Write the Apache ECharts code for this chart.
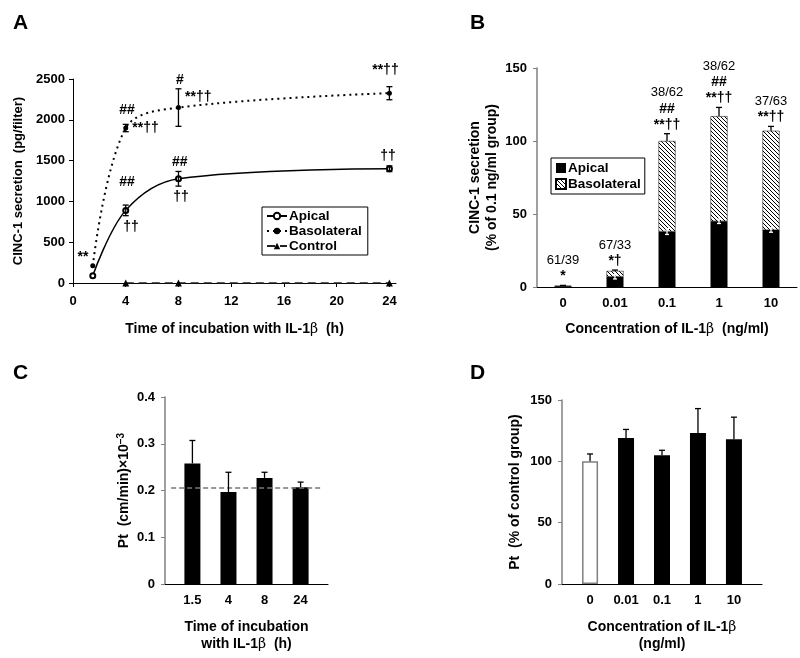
<!DOCTYPE html>
<html>
<head>
<meta charset="utf-8">
<script src="https://cdn.jsdelivr.net/npm/echarts@6/dist/echarts.min.js"></script>
<style>
    html, body { margin: 0; padding: 0; background: #fff; }
    #chart { width: 800px; height: 658px; }
</style>
</head>
<body>
<div id="chart"></div>
<script>
// ---- panel A: time course (pg/filter)
var hours = [1.5, 4, 8, 24];
var xTicksA = [0, 4, 8, 12, 16, 20, 24];
var apical = [90, 890, 1277, 1400];
var apicalErr = [0, 65, 90, 35];
var baso = [211, 1899, 2150, 2326];
var basoErr = [0, 45, 230, 80];
var hoursControl = [4, 8, 24];
var control = [0, 0, 0];
var annotA = [
    [0.76, 322, '**'],
    [4.1, 2120, '##'],
    [5.5, 1900, '**††'],
    [8.1, 2490, '#'],
    [9.5, 2280, '**††'],
    [23.7, 2610, '**††'],
    [4.1, 1240, '##'],
    [4.4, 690, '††'],
    [8.1, 1485, '##'],
    [8.2, 1055, '††'],
    [23.9, 1560, '††']
];

// ---- panel B: % of 0.1 ng/ml group
var doses = ['0', '0.01', '0.1', '1', '10'];
var apicalPct = [0.5, 7, 38, 45, 39];
var basoPct = [0.3, 4, 62, 72, 68];
var totalErr = [0.3, 0.6, 5, 6, 3];
var apicalPctErr = [0, 1.5, 2, 1.5, 1.5];
var ratioB = ['61/39', '67/33', '38/62', '38/62', '37/63'];
var signsB = [['*'], ['*†'], ['##', '**††'], ['##', '**††'], ['**††']];

// ---- panel C: Pt vs time
var timeLabels = ['1.5', '4', '8', '24'];
var pt = [0.258, 0.197, 0.227, 0.207];
var ptErr = [0.049, 0.042, 0.012, 0.011];
var ptControl = 0.205;

// ---- panel D: Pt % of control
var ptPct = [100, 119, 105, 123, 118];
var ptPctErr = [6, 7, 4, 20, 18];

var FONT = 'Liberation Sans, Arial, sans-serif';
var chart = echarts.init(document.getElementById('chart'));

// diagonal hatch for basolateral
var hatch = document.createElement('canvas');
hatch.width = 4; hatch.height = 4;
var g = hatch.getContext('2d');
g.fillStyle = '#fff'; g.fillRect(0, 0, 4, 4);
g.strokeStyle = '#000'; g.lineWidth = 1;
g.beginPath();
g.moveTo(-1, -1); g.lineTo(5, 5);
g.moveTo(3, -1); g.lineTo(5, 1);
g.moveTo(-1, 3); g.lineTo(1, 5);
g.stroke();

function errBar(capW, both, color) {
    return function (params, api) {
        var x = api.value(0), y = api.value(1), e = api.value(2);
        var top = api.coord([x, y + e]);
        var bot = api.coord([x, both ? y - e : y]);
        var s = { stroke: color, lineWidth: 1.3 };
        var ch = [
            { type: 'line', shape: { x1: top[0], y1: top[1], x2: bot[0], y2: bot[1] }, style: s },
            { type: 'line', shape: { x1: top[0] - capW, y1: top[1], x2: top[0] + capW, y2: top[1] }, style: s }
        ];
        if (both) ch.push({ type: 'line', shape: { x1: bot[0] - capW, y1: bot[1], x2: bot[0] + capW, y2: bot[1] }, style: s });
        return { type: 'group', children: ch };
    };
}

// text marks placed at data coordinates
function textMark(texts, size, weight, vAlign, lift) {
    return function (params, api) {
        var p = api.coord([api.value(0), api.value(1)]);
        return {
            type: 'text', x: p[0], y: p[1] - lift,
            style: {
                text: texts[params.dataIndex], fill: '#000',
                fontFamily: FONT, fontSize: size, fontWeight: weight, lineHeight: 16,
                align: 'center', verticalAlign: vAlign,
                rich: {
                    r: { fontFamily: FONT, fontSize: 13, fontWeight: 'normal', lineHeight: 16, fill: '#000' },
                    s: { fontFamily: FONT, fontSize: 14, fontWeight: 'bold', lineHeight: 16, fill: '#000' }
                }
            }
        };
    };
}

var plain = function (v) { return String(v); };
var tickLbl = { color: '#000', fontFamily: FONT, fontWeight: 'bold', fontSize: 13 };
function nameStyle(size) {
    return {
        color: '#000', fontFamily: FONT, fontWeight: 'bold', fontSize: size, lineHeight: 17,
        rich: {
            b: { fontFamily: 'DejaVu Serif', fontWeight: 'normal', fontSize: size, color: '#000' },
            sup: { fontFamily: FONT, fontWeight: 'bold', fontSize: 10, color: '#000', verticalAlign: 'top', lineHeight: 10 }
        }
    };
}
var xLine = { lineStyle: { color: '#000', width: 1 } };
var yLine = { lineStyle: { color: '#808080', width: 1.5 } };
var panelTitle = function (t, l, tp) {
    return { text: t, left: l, top: tp, textStyle: { fontFamily: FONT, fontWeight: 'bold', fontSize: 21, color: '#000' } };
};

var sumB = apicalPct.map(function (v, i) { return v + basoPct[i]; });
var annotB = ratioB.map(function (r, i) {
    return ['{r|' + r + '}'].concat(signsB[i].map(function (s) { return '{s|' + s + '}'; })).join('\n');
});

var option = {
    backgroundColor: '#fff',
    animation: false,
    title: [panelTitle('A', 8, 8), panelTitle('B', 465, 8), panelTitle('C', 8, 358), panelTitle('D', 465, 358)],
    legend: [{
        data: ['Apical', 'Basolateral', 'Control'],
        orient: 'vertical', left: 262, top: 207,
        itemWidth: 20, itemHeight: 8, itemGap: 1,
        borderColor: '#000', borderWidth: 1, borderRadius: 0, padding: [2, 6, 2, 4],
        textStyle: { fontFamily: FONT, fontWeight: 'bold', fontSize: 13.5, color: '#000', padding: [0, 0, 0, -3] }
    }, {
        data: ['B-Apical', 'B-Basolateral'],
        formatter: function (n) { return n.replace('B-', ''); },
        orient: 'vertical', left: 551, top: 158, icon: 'rect',
        itemWidth: 10, itemHeight: 10, itemGap: 2,
        borderColor: '#000', borderWidth: 1, borderRadius: 0, padding: [3, 4, 3, 4],
        textStyle: { fontFamily: FONT, fontWeight: 'bold', fontSize: 13.5, color: '#000', padding: [0, 0, 0, -3] }
    }],
    grid: [
        { left: 73, top: 79, width: 323, height: 204 },
        { left: 537, top: 68, width: 260, height: 219 },
        { left: 165, top: 397, width: 163, height: 187 },
        { left: 562, top: 400, width: 200, height: 184 }
    ],
    xAxis: [{
        gridIndex: 0, type: 'value', min: 0, max: 24.5,
        axisLine: xLine, axisTick: { customValues: xTicksA, length: 4, lineStyle: { color: '#000' } },
        axisLabel: Object.assign({ customValues: xTicksA, margin: 12 }, tickLbl),
        splitLine: { show: false },
        name: 'Time of incubation with IL-1{b|β}  (h)', nameLocation: 'middle', nameGap: 38, nameTextStyle: nameStyle(14)
    }, {
        gridIndex: 1, type: 'category', data: doses,
        axisLine: xLine, axisTick: { show: false },
        axisLabel: Object.assign({ margin: 10 }, tickLbl),
        name: 'Concentration of IL-1{b|β}  (ng/ml)', nameLocation: 'middle', nameGap: 34, nameTextStyle: nameStyle(14)
    }, {
        gridIndex: 2, type: 'value', min: 0.24, max: 4.76,
        axisLine: Object.assign({ onZero: false }, xLine), axisTick: { show: false },
        axisLabel: Object.assign({
            customValues: [1, 2, 3, 4], margin: 10,
            formatter: function (v) { return timeLabels[Math.round(v) - 1]; }
        }, tickLbl),
        splitLine: { show: false },
        name: 'Time of incubation\nwith IL-1{b|β}  (h)', nameLocation: 'middle', nameGap: 35, nameTextStyle: nameStyle(14)
    }, {
        gridIndex: 3, type: 'value', min: 0.22, max: 5.78,
        axisLine: Object.assign({ onZero: false }, xLine), axisTick: { show: false },
        axisLabel: Object.assign({
            customValues: [1, 2, 3, 4, 5], margin: 10,
            formatter: function (v) { return doses[Math.round(v) - 1]; }
        }, tickLbl),
        splitLine: { show: false },
        name: 'Concentration of IL-1{b|β}\n(ng/ml)', nameLocation: 'middle', nameGap: 35, nameTextStyle: nameStyle(14)
    }],
    yAxis: [{
        gridIndex: 0, type: 'value', min: 0, max: 2500, interval: 500,
        axisLine: { show: true, lineStyle: { color: '#000' } }, axisTick: { show: true, length: 4, lineStyle: { color: '#000' } },
        axisLabel: Object.assign({ margin: 8, formatter: plain }, tickLbl), splitLine: { show: false },
        name: 'CINC-1 secretion  (pg/filter)', nameLocation: 'middle', nameGap: 46, nameTextStyle: nameStyle(13)
    }, {
        gridIndex: 1, type: 'value', min: 0, max: 150, interval: 50,
        axisLine: Object.assign({ show: true }, yLine), axisTick: { show: true, length: 4, lineStyle: { color: '#808080' } },
        axisLabel: Object.assign({ margin: 10, formatter: plain }, tickLbl), splitLine: { show: false },
        name: 'CINC-1 secretion\n(% of 0.1 ng/ml group)', nameLocation: 'middle', nameGap: 36, nameTextStyle: nameStyle(14)
    }, {
        gridIndex: 2, type: 'value', min: 0, max: 0.4, interval: 0.1,
        axisLine: Object.assign({ show: true }, yLine), axisTick: { show: true, length: 4, lineStyle: { color: '#808080' } },
        axisLabel: Object.assign({ margin: 10, formatter: plain }, tickLbl), splitLine: { show: false },
        name: 'Pt  (cm/min)×10{sup|−3}', nameLocation: 'middle', nameGap: 32, nameTextStyle: nameStyle(14)
    }, {
        gridIndex: 3, type: 'value', min: 0, max: 150, interval: 50,
        axisLine: Object.assign({ show: true }, yLine), axisTick: { show: true, length: 4, lineStyle: { color: '#808080' } },
        axisLabel: Object.assign({ margin: 10, formatter: plain }, tickLbl), splitLine: { show: false },
        name: 'Pt  (% of control group)', nameLocation: 'middle', nameGap: 38, nameTextStyle: nameStyle(14)
    }],
    series: [
        // ---- A
        {
            name: 'Apical', type: 'line', xAxisIndex: 0, yAxisIndex: 0,
            data: hours.map(function (h, i) { return [h, apical[i]]; }),
            smooth: 0.35,
            symbol: 'emptyCircle', symbolSize: 5,
            lineStyle: { color: '#000', width: 1.5 }, itemStyle: { color: '#000', borderWidth: 1 }
        },
        {
            name: 'Basolateral', type: 'line', xAxisIndex: 0, yAxisIndex: 0,
            data: hours.map(function (h, i) { return [h, baso[i]]; }),
            smooth: 0.35,
            symbol: 'circle', symbolSize: 5,
            lineStyle: { color: '#000', width: 2, type: [2, 4] }, itemStyle: { color: '#000' }
        },
        {
            name: 'Control', type: 'line', xAxisIndex: 0, yAxisIndex: 0,
            data: hoursControl.map(function (h, i) { return [h, control[i]]; }),
            symbol: 'triangle', symbolSize: 7,
            lineStyle: { color: '#222', width: 1.5, type: [8, 5] }, itemStyle: { color: '#000' }
        },
        {
            type: 'custom', xAxisIndex: 0, yAxisIndex: 0, silent: true,
            renderItem: errBar(3, true, '#000'),
            data: hours.map(function (h, i) { return [h, apical[i], apicalErr[i]]; })
                .concat(hours.map(function (h, i) { return [h, baso[i], basoErr[i]]; }))
                .filter(function (d) { return d[2] > 0; }),
            z: 5
        },
        {
            type: 'custom', xAxisIndex: 0, yAxisIndex: 0, silent: true, clip: false, z: 6,
            renderItem: textMark(annotA.map(function (a) { return a[2]; }), 14, 'bold', 'middle', 0),
            data: annotA.map(function (a) { return [a[0], a[1]]; })
        },
        // ---- B
        {
            name: 'B-Apical', type: 'bar', xAxisIndex: 1, yAxisIndex: 1, stack: 'b',
            barWidth: 17, data: apicalPct, itemStyle: { color: '#000' }
        },
        {
            name: 'B-Basolateral', type: 'bar', xAxisIndex: 1, yAxisIndex: 1, stack: 'b',
            barWidth: 17, data: basoPct,
            itemStyle: { color: { image: hatch, repeat: 'repeat' }, borderColor: '#000', borderWidth: 0.5 }
        },
        {
            type: 'custom', xAxisIndex: 1, yAxisIndex: 1, silent: true,
            renderItem: errBar(3, false, '#000'),
            data: sumB.map(function (v, i) { return [i, v, totalErr[i]]; }), z: 5
        },
        {
            type: 'custom', xAxisIndex: 1, yAxisIndex: 1, silent: true,
            renderItem: errBar(2, true, '#fff'),
            data: apicalPct.map(function (v, i) { return [i, v, apicalPctErr[i]]; })
                .filter(function (d) { return d[2] > 0; }), z: 6
        },
        {
            type: 'custom', xAxisIndex: 1, yAxisIndex: 1, silent: true, clip: false, z: 6,
            renderItem: textMark(annotB, 13, 'normal', 'bottom', 1),
            data: sumB.map(function (v, i) { return [i, v + totalErr[i]]; })
        },
        // ---- C
        {
            type: 'bar', xAxisIndex: 2, yAxisIndex: 2, barWidth: 16,
            data: pt.map(function (v, i) { return [i + 1, v]; }),
            itemStyle: { color: '#000' },
            markLine: {
                silent: true, symbol: 'none', label: { show: false },
                lineStyle: { color: '#777', type: [5, 3], width: 1.5 },
                data: [[{ coord: [0.41, ptControl] }, { coord: [4.55, ptControl] }]]
            }
        },
        {
            type: 'custom', xAxisIndex: 2, yAxisIndex: 2, silent: true,
            renderItem: errBar(3, false, '#000'),
            data: pt.map(function (v, i) { return [i + 1, v, ptErr[i]]; }), z: 5
        },
        // ---- D
        {
            type: 'bar', xAxisIndex: 3, yAxisIndex: 3, barWidth: 16,
            data: ptPct.map(function (v, i) {
                return i === 0
                    ? { value: [i + 1, v], itemStyle: { color: '#fff', borderColor: '#808080', borderWidth: 1.5 } }
                    : [i + 1, v];
            }),
            itemStyle: { color: '#000' }
        },
        {
            type: 'custom', xAxisIndex: 3, yAxisIndex: 3, silent: true,
            renderItem: errBar(3, false, '#000'),
            data: ptPct.map(function (v, i) { return [i + 1, v, ptPctErr[i]]; }), z: 5
        }
    ]
};

chart.setOption(option);
</script>
</body>
</html>
